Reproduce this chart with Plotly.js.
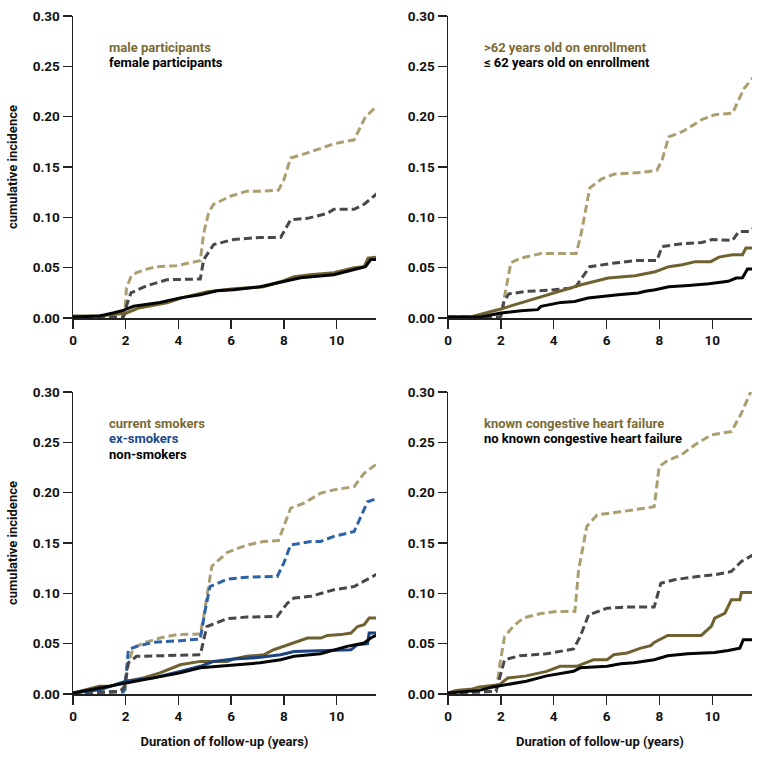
<!DOCTYPE html>
<html>
<head>
<meta charset="utf-8">
<script src="https://cdn.plot.ly/plotly-3.0.1.min.js"></script>
<style>html,body{margin:0;padding:0;background:#fff;}#chart{width:761px;height:760px;}</style>
</head>
<body>
<div id="chart"></div>
<script>
// ---------- Panel 1: sex ----------
const sexMaleCIX = [0, 1.9, 1.97, 2.03, 2.2, 2.41, 2.8, 3.18, 3.94, 4.83, 4.96, 5.15, 5.34, 5.97, 6.6, 7.24, 7.8, 8.0, 8.26, 8.9, 9.9, 10.67, 11.1, 11.56];
const sexMaleCIY = [0.001, 0.001, 0.006, 0.03, 0.041, 0.045, 0.0486, 0.051, 0.052, 0.057, 0.084, 0.105, 0.113, 0.121, 0.126, 0.126, 0.127, 0.137, 0.159, 0.164, 0.173, 0.177, 0.2, 0.211];
const sexFemaleCIX = [0, 1.9, 1.97, 2.03, 2.2, 2.8, 3.56, 4.83, 4.96, 5.34, 6.1, 7.1, 7.88, 8.1, 8.26, 8.9, 9.66, 9.9, 10.67, 11.05, 11.56];
const sexFemaleCIY = [0.001, 0.001, 0.004, 0.012, 0.025, 0.032, 0.038, 0.0387, 0.058, 0.073, 0.078, 0.08, 0.08, 0.09, 0.0976, 0.099, 0.104, 0.108, 0.108, 0.113, 0.124];
const sexMaleX = [0, 1.0, 2.03, 2.5, 3.56, 4.2, 5.1, 6.1, 7.24, 8.0, 8.4, 9.0, 9.9, 10.67, 11.05, 11.2, 11.56];
const sexMaleY = [0.002, 0.002, 0.005, 0.01, 0.015, 0.0205, 0.026, 0.029, 0.031, 0.037, 0.041, 0.043, 0.045, 0.05, 0.051, 0.0595, 0.0605];
const sexFemaleX = [0, 1.0, 1.52, 1.9, 2.3, 3.3, 4.07, 4.83, 5.46, 6.1, 7.1, 8.0, 8.64, 9.9, 10.4, 10.9, 11.1, 11.3, 11.56];
const sexFemaleY = [0.001, 0.002, 0.005, 0.0076, 0.0116, 0.0155, 0.02, 0.023, 0.027, 0.028, 0.031, 0.036, 0.04, 0.043, 0.046, 0.0496, 0.051, 0.058, 0.058];

// ---------- Panel 2: age ----------
const ageOldCIX = [0, 1.95, 2.0, 2.12, 2.38, 2.76, 3.52, 4.28, 4.85, 5.04, 5.36, 5.8, 6.3, 7.33, 7.9, 8.1, 8.35, 8.86, 9.6, 10.1, 10.76, 11.2, 11.58];
const ageOldCIY = [0.001, 0.001, 0.002, 0.018, 0.055, 0.0595, 0.064, 0.064, 0.064, 0.084, 0.129, 0.138, 0.143, 0.1446, 0.1466, 0.157, 0.18, 0.185, 0.197, 0.202, 0.2034, 0.228, 0.24];
const ageYoungCIX = [0, 1.95, 2.0, 2.12, 2.3, 3.0, 3.77, 4.8, 5.04, 5.36, 6.3, 7.08, 7.9, 8.1, 8.86, 9.6, 10.0, 10.76, 11.0, 11.4, 11.58];
const ageYoungCIY = [0.001, 0.001, 0.002, 0.0165, 0.024, 0.0265, 0.0275, 0.03, 0.0387, 0.051, 0.0546, 0.057, 0.057, 0.071, 0.0738, 0.075, 0.078, 0.077, 0.086, 0.086, 0.09];
const ageOldX = [0, 0.85, 2.0, 2.5, 3.52, 4.03, 5.04, 6.06, 7.08, 7.84, 8.35, 8.86, 9.36, 9.94, 10.25, 10.76, 11.14, 11.27, 11.58];
const ageOldY = [0.001, 0.001, 0.009, 0.013, 0.0215, 0.0248, 0.033, 0.0397, 0.042, 0.046, 0.051, 0.053, 0.056, 0.056, 0.0605, 0.0628, 0.0628, 0.0695, 0.0695];
const ageYoungX = [0, 1.23, 2.0, 2.76, 3.39, 3.52, 4.28, 4.79, 5.3, 6.06, 6.44, 7.2, 7.46, 7.84, 8.35, 9.1, 9.87, 10.6, 10.9, 11.14, 11.33, 11.58];
const ageYoungY = [0.001, 0.001, 0.005, 0.0073, 0.0083, 0.0116, 0.0155, 0.0165, 0.0198, 0.0215, 0.023, 0.0248, 0.0265, 0.028, 0.031, 0.0324, 0.034, 0.0364, 0.0397, 0.04, 0.0486, 0.0486];

// ---------- Panel 3: smoking ----------
const smkCurrentCIX = [0, 1.9, 2.1, 2.29, 2.67, 3.3, 3.94, 4.83, 4.96, 5.27, 5.85, 6.6, 7.24, 7.8, 8.0, 8.26, 8.77, 9.4, 9.9, 10.67, 11.05, 11.56];
const smkCurrentCIY = [0.001, 0.0026, 0.031, 0.0456, 0.0506, 0.0556, 0.059, 0.0595, 0.077, 0.127, 0.1406, 0.148, 0.1515, 0.1525, 0.1664, 0.1846, 0.1895, 0.1995, 0.2028, 0.206, 0.2193, 0.2292];
const smkExCIX = [0, 1.9, 1.97, 2.1, 2.41, 3.05, 4.07, 4.83, 5.02, 5.2, 5.85, 6.6, 7.75, 8.0, 8.26, 9.02, 9.4, 9.9, 10.67, 11.0, 11.18, 11.56];
const smkExCIY = [0.001, 0.002, 0.0043, 0.044, 0.0473, 0.0513, 0.053, 0.0546, 0.0837, 0.1068, 0.114, 0.116, 0.1168, 0.13, 0.148, 0.1515, 0.1515, 0.1565, 0.1614, 0.1796, 0.191, 0.1945];
const smkNonCIX = [0, 1.78, 1.97, 2.1, 2.41, 3.3, 4.07, 4.83, 5.08, 5.85, 6.6, 7.75, 8.13, 8.39, 9.02, 9.9, 10.67, 11.05, 11.56];
const smkNonCIY = [0.001, 0.0026, 0.0076, 0.031, 0.0374, 0.038, 0.0387, 0.039, 0.067, 0.0748, 0.0764, 0.077, 0.09, 0.0953, 0.097, 0.1035, 0.1068, 0.112, 0.1194];
const smkCurrentX = [0, 1.0, 1.4, 2.03, 2.67, 3.3, 4.07, 4.83, 5.85, 6.1, 6.6, 7.24, 7.62, 8.0, 8.51, 8.9, 9.4, 9.66, 10.16, 10.55, 10.8, 11.05, 11.24, 11.56];
const smkCurrentY = [0.001, 0.0076, 0.0076, 0.0126, 0.016, 0.021, 0.029, 0.0324, 0.0324, 0.0347, 0.0374, 0.039, 0.044, 0.0473, 0.0523, 0.0556, 0.0556, 0.0582, 0.059, 0.0605, 0.067, 0.0688, 0.0754, 0.0754];
const smkExX = [0, 1.0, 2.03, 3.05, 4.07, 4.83, 5.34, 6.1, 7.1, 7.88, 8.39, 9.4, 10.55, 10.8, 11.18, 11.24, 11.56];
const smkExY = [0.001, 0.0043, 0.0126, 0.016, 0.0225, 0.0275, 0.0324, 0.0347, 0.0364, 0.039, 0.0423, 0.043, 0.044, 0.049, 0.05, 0.0605, 0.0605];
const smkNonX = [0, 1.0, 2.03, 3.05, 4.07, 4.83, 6.1, 7.1, 7.88, 8.39, 9.4, 9.9, 10.4, 11.05, 11.3, 11.56];
const smkNonY = [0.001, 0.006, 0.011, 0.016, 0.021, 0.026, 0.029, 0.031, 0.034, 0.0374, 0.04, 0.0433, 0.0473, 0.0506, 0.0556, 0.059];

// ---------- Panel 4: congestive heart failure ----------
const chfKnownCIX = [0, 1.82, 1.97, 2.14, 2.46, 2.84, 3.47, 4.1, 4.8, 4.94, 5.25, 5.64, 6.53, 7.29, 7.8, 7.99, 8.31, 8.82, 9.33, 9.96, 10.72, 11.1, 11.45];
const chfKnownCIY = [0.001, 0.0026, 0.031, 0.057, 0.067, 0.0754, 0.0797, 0.082, 0.082, 0.123, 0.1664, 0.178, 0.181, 0.1836, 0.186, 0.226, 0.2319, 0.2375, 0.2474, 0.2574, 0.2607, 0.279, 0.3];
const chfNoneCIX = [0, 1.82, 1.97, 2.14, 2.71, 3.73, 4.75, 5.0, 5.32, 6.02, 6.78, 7.8, 8.05, 8.56, 9.45, 10.09, 10.72, 11.1, 11.55];
const chfNoneCIY = [0.001, 0.0026, 0.0175, 0.034, 0.038, 0.04, 0.0447, 0.057, 0.0787, 0.0853, 0.0863, 0.0863, 0.11, 0.1135, 0.1168, 0.1184, 0.1217, 0.1317, 0.1383];
const chfKnownX = [0, 0.3, 0.93, 1.18, 1.95, 2.26, 2.96, 3.73, 4.24, 4.87, 5.5, 6.02, 6.27, 6.78, 7.29, 7.67, 7.8, 8.31, 9.58, 9.96, 10.09, 10.47, 10.72, 11.04, 11.1, 11.55];
const chfKnownY = [0.001, 0.0036, 0.005, 0.007, 0.0093, 0.0159, 0.018, 0.0225, 0.0275, 0.0275, 0.034, 0.034, 0.039, 0.0407, 0.0456, 0.048, 0.0513, 0.0582, 0.0582, 0.0672, 0.0754, 0.08, 0.0936, 0.0936, 0.1009, 0.1009];
const chfNoneX = [0, 1.18, 1.69, 2.46, 2.96, 3.73, 4.75, 5.0, 6.02, 6.53, 7.04, 7.8, 8.31, 9.07, 10.09, 10.6, 11.04, 11.17, 11.55];
const chfNoneY = [0.001, 0.0036, 0.007, 0.0103, 0.0126, 0.018, 0.0225, 0.026, 0.0275, 0.03, 0.031, 0.034, 0.038, 0.04, 0.0413, 0.0433, 0.0456, 0.054, 0.054];

// ---------- Text ----------
const legendTexts = [
  ["male participants", "female participants"],
  [">62 years old on enrollment", "≤ 62 years old on enrollment"],
  ["current smokers", "ex-smokers", "non-smokers"],
  ["known congestive heart failure", "no known congestive heart failure"]
];
const yTitle = "cumulative incidence";
const xTitle = "Duration of follow-up (years)";
const yTickVals = [0, 0.05, 0.10, 0.15, 0.20, 0.25, 0.30];
const yTickText = ["0.00", "0.05", "0.10", "0.15", "0.20", "0.25", "0.30"];
const xTickVals = [0, 2, 4, 6, 8, 10];

// ---------- Styles ----------
const C_OLIVE = "#6f6230";
const C_OLIVE_LIGHT = "#ab9f72";
const C_GRAY = "#48484c";
const C_BLACK = "#050505";
const C_BLUE = "#1b4481";
const C_BLUE_DASH = "#2d63a8";
const C_LEG_OLIVE = "#7b6b35";
const C_LEG_BLUE = "#1d4a8a";
const FONT = "Roboto, 'Liberation Sans', sans-serif";

function tr(x, y, color, dash, ax) {
  return {x: x, y: y, type: "scatter", mode: "lines", xaxis: ax[0], yaxis: ax[1],
    line: {color: color, width: 3, dash: dash ? "8px,4px" : "solid"}, hoverinfo: "skip", showlegend: false};
}
const A1 = ["x", "y"], A2 = ["x2", "y2"], A3 = ["x3", "y3"], A4 = ["x4", "y4"];
const data = [
  tr(sexMaleCIX, sexMaleCIY, C_OLIVE_LIGHT, true, A1),
  tr(sexFemaleCIX, sexFemaleCIY, C_GRAY, true, A1),
  tr(sexMaleX, sexMaleY, C_OLIVE, false, A1),
  tr(sexFemaleX, sexFemaleY, C_BLACK, false, A1),

  tr(ageOldCIX, ageOldCIY, C_OLIVE_LIGHT, true, A2),
  tr(ageYoungCIX, ageYoungCIY, C_GRAY, true, A2),
  tr(ageOldX, ageOldY, C_OLIVE, false, A2),
  tr(ageYoungX, ageYoungY, C_BLACK, false, A2),

  tr(smkCurrentCIX, smkCurrentCIY, C_OLIVE_LIGHT, true, A3),
  tr(smkExCIX, smkExCIY, C_BLUE_DASH, true, A3),
  tr(smkNonCIX, smkNonCIY, C_GRAY, true, A3),
  tr(smkCurrentX, smkCurrentY, C_OLIVE, false, A3),
  tr(smkExX, smkExY, C_BLUE, false, A3),
  tr(smkNonX, smkNonY, C_BLACK, false, A3),

  tr(chfKnownCIX, chfKnownCIY, C_OLIVE_LIGHT, true, A4),
  tr(chfNoneCIX, chfNoneCIY, C_GRAY, true, A4),
  tr(chfKnownX, chfKnownY, C_OLIVE, false, A4),
  tr(chfNoneX, chfNoneY, C_BLACK, false, A4)
];

const W = 761, H = 760;
function dx(a, b) { return [a / W, b / W]; }
function dy(top, bottom) { return [(H - bottom) / H, (H - top) / H]; }
const tickFont = {family: FONT, size: 13.5, color: "#111", weight: 700};
const titleFont = {family: FONT, size: 13, color: "#111", weight: 700};
function xax(domain, anchor, showTitle) {
  const o = {domain: domain, anchor: anchor, range: [0, 11.5], showgrid: false, zeroline: false,
    showline: true, linecolor: "#222", linewidth: 1.5, ticks: "outside", ticklen: 9, tickwidth: 1.5,
    tickcolor: "#222", tickvals: xTickVals, tickfont: tickFont, fixedrange: true};
  if (showTitle) o.title = {text: xTitle, font: titleFont, standoff: 14};
  return o;
}
function yax(domain, anchor, showTitle) {
  const o = {domain: domain, anchor: anchor, range: [0, 0.30], showgrid: false, zeroline: false,
    showline: true, linecolor: "#222", linewidth: 1.5, ticks: "outside", ticklen: 9, tickwidth: 1.5,
    tickcolor: "#222", tickvals: yTickVals, ticktext: yTickText, tickfont: tickFont, fixedrange: true};
  if (showTitle) o.title = {text: yTitle, font: titleFont, standoff: 12};
  return o;
}
const DX1 = dx(73, 376), DX2 = dx(448, 752);
const DY1 = dy(16, 318), DY2 = dy(392, 694);

const legendColors = [
  [C_LEG_OLIVE, "#000"],
  [C_LEG_OLIVE, "#000"],
  [C_LEG_OLIVE, C_LEG_BLUE, "#000"],
  [C_LEG_OLIVE, "#000"]
];
const annotations = [];
const refs = [["x domain", "y domain"], ["x2 domain", "y2 domain"], ["x3 domain", "y3 domain"], ["x4 domain", "y4 domain"]];
legendTexts.forEach((lines, p) => {
  lines.forEach((t, i) => {
    annotations.push({text: t, xref: refs[p][0], yref: refs[p][1], x: 0.112, y: 0.897 - i * 0.052,
      xanchor: "left", yanchor: "middle", showarrow: false,
      font: {family: FONT, size: 13, color: legendColors[p][i], weight: 700}});
  });
});

const layout = {
  width: W, height: H, margin: {l: 0, r: 0, t: 0, b: 0},
  paper_bgcolor: "#fff", plot_bgcolor: "#fff", showlegend: false,
  xaxis: xax(DX1, "y", false), yaxis: yax(DY1, "x", true),
  xaxis2: xax(DX2, "y2", false), yaxis2: yax(DY1, "x2", false),
  xaxis3: xax(DX1, "y3", true), yaxis3: yax(DY2, "x3", true),
  xaxis4: xax(DX2, "y4", true), yaxis4: yax(DY2, "x4", false),
  annotations: annotations
};
Plotly.newPlot("chart", data, layout, {displayModeBar: false, staticPlot: true});
</script>
</body>
</html>
